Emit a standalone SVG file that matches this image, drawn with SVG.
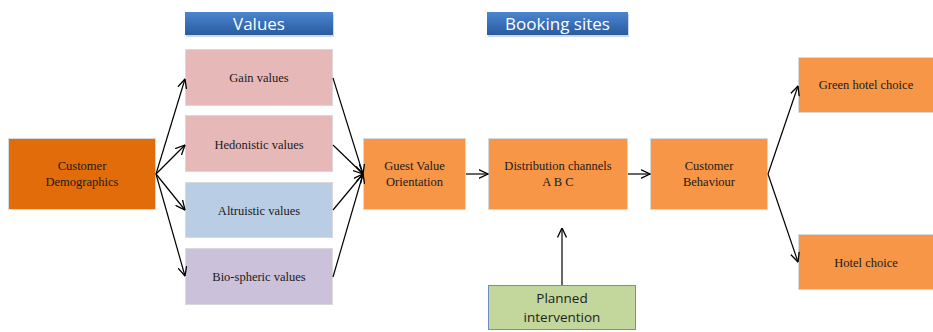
<svg xmlns="http://www.w3.org/2000/svg" width="933" height="332" viewBox="0 0 933 332">
<defs>
<linearGradient id="hdr" x1="0" y1="0" x2="0" y2="1">
<stop offset="0" stop-color="#4a86cf"/>
<stop offset="0.5" stop-color="#3a70b8"/>
<stop offset="1" stop-color="#2a5b9c"/>
</linearGradient>
<marker id="arr" viewBox="0 0 10 10" refX="9.5" refY="5" markerWidth="10" markerHeight="10" markerUnits="userSpaceOnUse" orient="auto">
<path d="M0,0.5 L9.5,5 L0,9.5" fill="none" stroke="#000" stroke-width="1.3"/>
</marker>
</defs>
<style>
.box{stroke:#d9d9d9;stroke-width:1}
.t{font-family:'Liberation Serif','DejaVu Serif','Times New Roman',serif;font-size:12.5px;fill:#1a1a1a;text-anchor:middle}
.h{font-family:'Open Sans','Liberation Sans',sans-serif;font-size:17px;fill:#fff;text-anchor:middle}
.c{fill:none;stroke:#000;stroke-width:1.2;marker-end:url(#arr)}
</style>
<rect width="933" height="332" fill="#fff"/>
<g id="values-header">
<rect x="186" y="14" width="148" height="23" fill="#9db3d0" opacity="0.5"/>
<rect x="185" y="12" width="148" height="23" fill="url(#hdr)"/>
<text class="h" x="259" y="30">Values</text>
</g>
<g id="booking-header">
<rect x="488" y="14" width="141" height="23" fill="#9db3d0" opacity="0.5"/>
<rect x="487" y="12" width="141" height="23" fill="url(#hdr)"/>
<text class="h" x="557.5" y="30">Booking sites</text>
</g>
<g id="customer-demographics">
<rect class="box" x="8.5" y="138.5" width="147" height="71" fill="#e36c0a"/>
<text class="t" x="82" y="170">Customer</text>
<text class="t" x="82" y="186">Demographics</text>
</g>
<g id="gain">
<rect class="box" x="185.5" y="49.5" width="147" height="56" fill="#e6b9b8"/>
<text class="t" x="259" y="82">Gain values</text>
</g>
<g id="hedonistic">
<rect class="box" x="185.5" y="115.5" width="147" height="56" fill="#e6b9b8"/>
<text class="t" x="259" y="149">Hedonistic values</text>
</g>
<g id="altruistic">
<rect class="box" x="185.5" y="182.5" width="147" height="55" fill="#b9cde5"/>
<text class="t" x="259" y="215">Altruistic values</text>
</g>
<g id="biospheric">
<rect class="box" x="185.5" y="248.5" width="147" height="56" fill="#ccc1da"/>
<text class="t" x="259" y="281">Bio-spheric values</text>
</g>
<g id="guest-value">
<rect class="box" x="363.5" y="138.5" width="102" height="71" fill="#f79646"/>
<text class="t" x="414.5" y="170">Guest Value</text>
<text class="t" x="414.5" y="186">Orientation</text>
</g>
<g id="distribution">
<rect class="box" x="488.5" y="138.5" width="139" height="71" fill="#f79646"/>
<text class="t" x="558" y="170">Distribution channels</text>
<text class="t" x="558" y="186">A B C</text>
</g>
<g id="customer-behaviour">
<rect class="box" x="650.5" y="138.5" width="117" height="71" fill="#f79646"/>
<text class="t" x="709" y="170">Customer</text>
<text class="t" x="709" y="186">Behaviour</text>
</g>
<g id="green-hotel">
<rect class="box" x="798.5" y="57.5" width="136" height="55" fill="#f79646"/>
<text class="t" x="866" y="89">Green hotel choice</text>
</g>
<g id="hotel">
<rect class="box" x="798.5" y="234.5" width="136" height="55" fill="#f79646"/>
<text class="t" x="866" y="267">Hotel choice</text>
</g>
<g id="planned">
<rect x="488.5" y="285.5" width="147" height="44" fill="#c3d69b" stroke="#6b8fbf" stroke-width="1"/>
<text x="562" y="303" font-family="'Open Sans','Liberation Sans',sans-serif" font-size="13.5" fill="#222" text-anchor="middle">Planned</text>
<text x="562" y="322" font-family="'Open Sans','Liberation Sans',sans-serif" font-size="13.5" fill="#222" text-anchor="middle">intervention</text>
</g>
<g id="connectors">
<line class="c" x1="156" y1="174" x2="185" y2="79"/>
<line class="c" x1="156" y1="174" x2="185" y2="145"/>
<line class="c" x1="156" y1="174" x2="185" y2="210"/>
<line class="c" x1="156" y1="174" x2="185" y2="276"/>
<line class="c" x1="333" y1="78" x2="363" y2="174"/>
<line class="c" x1="333" y1="145" x2="363" y2="174"/>
<line class="c" x1="333" y1="210" x2="363" y2="174"/>
<line class="c" x1="333" y1="277" x2="363" y2="174"/>
<line class="c" x1="466" y1="174" x2="488" y2="174"/>
<line class="c" x1="628" y1="174" x2="650" y2="174"/>
<line class="c" x1="768" y1="174" x2="798" y2="86"/>
<line class="c" x1="768" y1="174" x2="798" y2="262"/>
<line class="c" x1="562" y1="285" x2="562" y2="228"/>
</g>
</svg>
